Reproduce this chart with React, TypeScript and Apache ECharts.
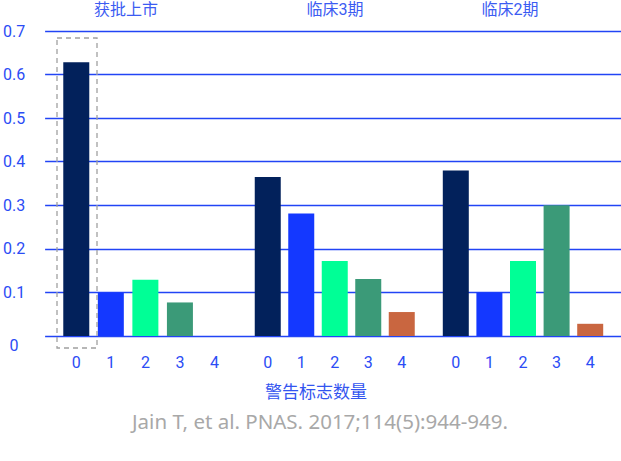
import React, { useEffect, useRef } from "react";
import * as echarts from "echarts";

const groupNames = ["获批上市", "临床3期", "临床2期"];
const flagCounts = ["0", "1", "2", "3", "4"];
const approvedValues = [0.628, 0.1, 0.129, 0.077, 0];
const phase3Values = [0.365, 0.281, 0.172, 0.131, 0.055];
const phase2Values = [0.38, 0.1, 0.172, 0.3, 0.028];
const yTicks = [0, 0.1, 0.2, 0.3, 0.4, 0.5, 0.6, 0.7];
const axisName = "警告标志数量";
const citation = "Jain T, et al. PNAS. 2017;114(5):944-949.";

const barColors = ["#02215b", "#1438ff", "#00ff96", "#3b9a78", "#c96640"];
const FONT = 'Roboto, "Noto Sans CJK SC", sans-serif';
const BLUE = "#2b4cf5";
const GRID_BLUE = "#2244f5";

export default function App() {
  const ref = useRef<HTMLDivElement>(null);
  useEffect(() => {
    document.body.style.margin = "0";
    if (!ref.current) return;
    const chart = echarts.init(ref.current, undefined, { renderer: "svg" });
    const groups = [approvedValues, phase3Values, phase2Values];
    const grids = [
      { left: 43, right: 0, top: 31, bottom: 125 },
      { left: 59, right: 389.25, top: 31, bottom: 125 },
      { left: 251, right: 202.5, top: 31, bottom: 125 },
      { left: 439, right: 14, top: 31, bottom: 125 },
    ];
    const xAxes: any[] = [
      { gridIndex: 0, type: "category", data: ["a"], show: false },
    ];
    const yAxes: any[] = [
      {
        gridIndex: 0,
        type: "value",
        min: yTicks[0],
        max: yTicks[yTicks.length - 1],
        interval: 0.1,
        axisLine: { show: false },
        axisTick: { show: false },
        splitLine: { show: true, lineStyle: { color: GRID_BLUE, width: 1.3 } },
        axisLabel: {
          align: "center",
          margin: 31,
          color: BLUE,
          fontSize: 16,
          fontFamily: FONT,
          formatter: (v: number) => (v === 0 ? "{z|0}" : v.toFixed(1)),
          rich: {
            z: { padding: [18, 0, 0, 0], color: BLUE, fontSize: 16, fontFamily: FONT },
          },
        },
      },
    ];
    const series: any[] = [];
    groups.forEach((vals, gi) => {
      xAxes.push({
        gridIndex: gi + 1,
        type: "category",
        data: flagCounts,
        axisLine: { show: false },
        axisTick: { show: false },
        axisLabel: { color: BLUE, fontSize: 16, fontFamily: FONT, margin: 18 },
      });
      yAxes.push({
        gridIndex: gi + 1,
        type: "value",
        min: yTicks[0],
        max: yTicks[yTicks.length - 1],
        show: false,
        splitLine: { show: false },
      });
      series.push({
        type: "bar",
        xAxisIndex: gi + 1,
        yAxisIndex: gi + 1,
        barWidth: 26,
        data: vals.map((v, i) => ({ value: v, itemStyle: { color: barColors[i] } })),
      });
    });
    const titleCenters = [126, 335, 510];
    chart.setOption({
      animation: false,
      grid: grids,
      xAxis: xAxes,
      yAxis: yAxes,
      series,
      graphic: [
        ...groupNames.map((n, i) => ({
          type: "text",
          x: titleCenters[i],
          y: 9,
          style: {
            text: n,
            fill: "#3c5cf2",
            fontSize: 16,
            fontFamily: FONT,
            align: "center",
            verticalAlign: "middle",
          },
        })),
        {
          type: "text",
          x: 316,
          y: 392,
          style: {
            text: axisName,
            fill: "#3355f0",
            fontSize: 17,
            fontFamily: FONT,
            align: "center",
            verticalAlign: "middle",
          },
        },
        {
          type: "text",
          x: 320,
          y: 421,
          style: {
            text: citation,
            fill: "#a8a8a8",
            fontSize: 20.5,
            fontFamily: '"Noto Sans", sans-serif',
            align: "center",
            verticalAlign: "middle",
          },
        },
        {
          type: "rect",
          shape: { x: 57, y: 38, width: 40, height: 310 },
          style: { fill: "none", stroke: "#a0a0a0", lineWidth: 1.3, lineDash: [5, 4] },
          z: 10,
        },
      ],
    });
    return () => chart.dispose();
  }, []);
  return <div ref={ref} style={{ width: 621, height: 461 }} />;
}
